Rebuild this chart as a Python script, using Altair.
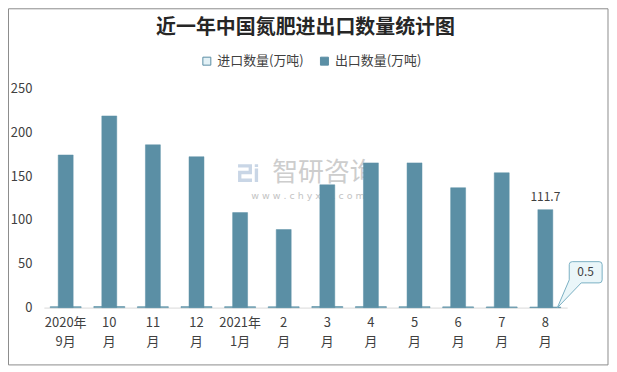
import altair as alt
import pandas as pd

# ---- data ----
months = ["2020年\n9月", "10\n月", "11\n月", "12\n月", "2021年\n1月", "2\n月",
          "3\n月", "4\n月", "5\n月", "6\n月", "7\n月", "8\n月"]
import_qty = [1.0, 1.2, 1.0, 1.1, 1.0, 0.9, 1.2, 1.1, 1.0, 0.8, 0.7, 0.5]
export_qty = [174.0, 218.5, 185.6, 172.0, 108.3, 89.0, 140.0, 165.0, 165.0, 136.7, 153.7, 111.7]
series_names = ["进口数量(万吨)", "出口数量(万吨)"]
title_text = "近一年中国氮肥进出口数量统计图"
y_ticks = [0, 50, 100, 150, 200, 250]

imp_df = pd.DataFrame({"month": months, "value": import_qty, "series": series_names[0]})
exp_df = pd.DataFrame({"month": months, "value": export_qty, "series": series_names[1]})
last_exp = exp_df.iloc[[-1]].copy()
last_exp["label"] = last_exp["value"].map(lambda v: f"{v:g}")
last_imp = imp_df.iloc[[-1]].copy()
last_imp["label"] = last_imp["value"].map(lambda v: f"{v:g}")
one = pd.DataFrame({"k": [0]})

FONT = "Noto Sans CJK SC"
DARK = "#5b8fa5"
LIGHT = "#e3f1f6"

color_scale = alt.Scale(domain=series_names, range=[LIGHT, DARK])
x_enc = alt.X("month:N", sort=months,
              scale=alt.Scale(paddingInner=0, paddingOuter=0),
              axis=alt.Axis(title=None, labelAngle=0, ticks=False,
                            domainColor="#d9d9d9", domainWidth=1,
                            labelExpr="split(datum.label, '\\n')",
                            labelFont=FONT, labelFontSize=13, labelColor="#404040",
                            labelLineHeight=19, labelPadding=9, labelBaseline="top"))
y_enc = alt.Y("value:Q", scale=alt.Scale(domain=[0, 250], nice=False),
              axis=alt.Axis(title=None, values=y_ticks, grid=False, domain=False,
                            ticks=False, labelFont=FONT, labelFontSize=13,
                            labelColor="#404040", labelPadding=12))

# ---- callout shape (path in pixel units relative to the tip) ----
pts_cmds = [("M", (0, 0)), ("L", (24, -25)), ("L", (42, -25)), ("Q", (45, -25, 45, -28)),
            ("L", (45, -43.3)), ("Q", (45, -46.3, 42, -46.3)), ("L", (15, -46.3)),
            ("Q", (12, -46.3, 12, -43.3)), ("L", (12, -28))]
cx, cy, s = 22.5, -23.15, 23.15
def u(vals):
    out = []
    for i in range(0, len(vals), 2):
        out.append(f"{(vals[i]-cx)/s:.3f},{(vals[i+1]-cy)/s:.3f}")
    return " ".join(out)
callout_path = "".join(f"{c}{u(v)} " for c, v in pts_cmds) + "Z"

# logo shape (ㄹ-like glyph plus a bar)
logo_path = ("M-1,-0.8 L0.25,-0.8 L0.25,0.1 L-0.7,0.1 L-0.7,0.5 L0.25,0.5 L0.25,0.8 "
             "L-1,0.8 L-1,-0.2 L-0.05,-0.2 L-0.05,-0.5 L-1,-0.5 Z "
             "M0.5,-0.8 L0.8,-0.8 L0.8,-0.55 L0.5,-0.55 Z M0.5,-0.4 L0.8,-0.4 L0.8,0.8 L0.5,0.8 Z")

frame = alt.Chart(one).mark_rect(fill=None, stroke="#8c8c8c", strokeWidth=1).encode(
    x=alt.value(-35.5), x2=alt.value(566), y=alt.value(-79.8), y2=alt.value(277.5))

wm_logo = alt.Chart(one).mark_point(shape=logo_path, filled=True, size=500,
                                    fill="#c9d6e6", opacity=1).encode(
    x=alt.value(206), y=alt.value(85))
wm_text = alt.Chart(one).mark_text(text="智研咨询", font=FONT, fontSize=26,
                                   color="#cdcdcd").encode(x=alt.value(281), y=alt.value(85))
wm_url = alt.Chart(one).mark_text(text="w w w . c h y x x . c o m", font="DejaVu Sans",
                                  fontSize=9.5, color="#c4c4c4").encode(
    x=alt.value(265), y=alt.value(108))

imp_bars = alt.Chart(imp_df).mark_bar(size=31, stroke=DARK, strokeWidth=0.8).encode(
    x=x_enc, y=y_enc,
    color=alt.Color("series:N", scale=color_scale, sort=series_names,
                    legend=alt.Legend(title=None)))
exp_bars = alt.Chart(exp_df).mark_bar(size=15, stroke=DARK, strokeWidth=0.5).encode(
    x=alt.X("month:N", sort=months), y="value:Q",
    color=alt.Color("series:N", scale=color_scale, sort=series_names))

exp_label = alt.Chart(last_exp).mark_text(font=FONT, fontSize=12, color="#404040",
                                          dy=-13).encode(
    x=alt.X("month:N", sort=months), y="value:Q", text="label:N")

callout_box = alt.Chart(last_imp).mark_point(shape=callout_path, filled=True,
                                             size=(2 * s) ** 2, fill="#eaf6f9",
                                             stroke="#7ab0c3", strokeWidth=1, opacity=1,
                                             xOffset=34.5, yOffset=-22.5).encode(
    x=alt.X("month:N", sort=months), y=alt.Y("value:Q"))
callout_text = alt.Chart(last_imp).mark_text(font=FONT, fontSize=12, color="#404040",
                                             dx=40.4, dy=-35).encode(
    x=alt.X("month:N", sort=months), y=alt.Y("value:Q"), text="label:N")

chart = alt.layer(frame, wm_logo, wm_text, wm_url, imp_bars, exp_bars, exp_label,
                  callout_box, callout_text).properties(
    width=525, height=220,
    title=alt.TitleParams(title_text, font=FONT, fontSize=20, fontWeight="bold",
                          color="#262626", anchor="middle", offset=0, dy=30),
    autosize=alt.AutoSizeParams(type="none"),
    padding={"left": 36, "top": 80, "right": 42, "bottom": 59},
).configure_view(stroke=None).configure_legend(
    orient="none", legendX=157, legendY=-34, direction="horizontal",
    symbolType="square", symbolSize=64, symbolStrokeColor=DARK, symbolStrokeWidth=1,
    labelFont=FONT, labelFontSize=13, labelColor="#404040", columnPadding=14,
    labelOffset=4,
)

chart.save("out.html", embed_options={"renderer": "svg", "actions": False})
